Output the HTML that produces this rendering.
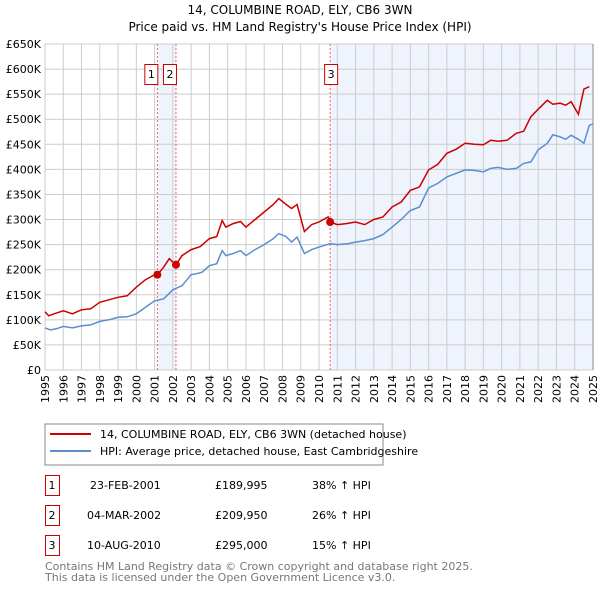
<!DOCTYPE html>
<html><head><meta charset="utf-8"><style>
body{margin:0;background:#fff;font-family:"DejaVu Sans","Liberation Sans",sans-serif;}
svg text{font-family:"DejaVu Sans","Liberation Sans",sans-serif;}
</style></head><body>
<svg id="c" width="600" height="590" xmlns="http://www.w3.org/2000/svg">
<text x="300" y="14" text-anchor="middle" font-size="12">14, COLUMBINE ROAD, ELY, CB6 3WN</text>
<text x="300" y="31" text-anchor="middle" font-size="12">Price paid vs. HM Land Registry's House Price Index (HPI)</text>
<g id="plot"></g>
<rect x="45" y="424" width="338" height="41" fill="#fff" stroke="#888"/>
<line x1="50" y1="434" x2="91" y2="434" stroke="#cc0000" stroke-width="2"/>
<text x="100" y="438" font-size="11">14, COLUMBINE ROAD, ELY, CB6 3WN (detached house)</text>
<line x1="50" y1="451" x2="91" y2="451" stroke="#5b8ed0" stroke-width="2"/>
<text x="100" y="455" font-size="11">HPI: Average price, detached house, East Cambridgeshire</text>
<g font-size="11">
<rect x="45.5" y="475.5" width="14" height="20" fill="none" stroke="#c00"/><text x="52" y="489" text-anchor="middle">1</text>
<text x="90" y="489">23-FEB-2001</text><text x="215" y="489">£189,995</text><text x="312" y="489">38% ↑ HPI</text>
<rect x="45.5" y="505.5" width="14" height="20" fill="none" stroke="#c00"/><text x="52" y="519" text-anchor="middle">2</text>
<text x="87" y="519">04-MAR-2002</text><text x="215" y="519">£209,950</text><text x="312" y="519">26% ↑ HPI</text>
<rect x="45.5" y="535.5" width="14" height="20" fill="none" stroke="#c00"/><text x="52" y="549" text-anchor="middle">3</text>
<text x="87" y="549">10-AUG-2010</text><text x="215" y="549">£295,000</text><text x="312" y="549">15% ↑ HPI</text>
</g>
<text x="45" y="570" font-size="11" fill="#777">Contains HM Land Registry data © Crown copyright and database right 2025.</text>
<text x="45" y="581" font-size="11" fill="#777">This data is licensed under the Open Government Licence v3.0.</text>
</svg>
<script>
const yTicks=[0,50,100,150,200,250,300,350,400,450,500,550,600,650];
const years=[1995,1996,1997,1998,1999,2000,2001,2002,2003,2004,2005,2006,2007,2008,2009,2010,2011,2012,2013,2014,2015,2016,2017,2018,2019,2020,2021,2022,2023,2024,2025];
const hpiT=[1995,1995.3,1995.6,1996,1996.5,1997,1997.5,1998,1998.5,1999,1999.5,2000,2000.5,2001,2001.5,2002,2002.5,2003,2003.3,2003.6,2004,2004.4,2004.7,2004.9,2005.3,2005.7,2006,2006.5,2007,2007.5,2007.8,2008.2,2008.5,2008.8,2009.2,2009.6,2010,2010.6,2011,2011.6,2012,2012.5,2013,2013.5,2014,2014.5,2015,2015.5,2016,2016.5,2017,2017.5,2018,2018.5,2019,2019.4,2019.8,2020.3,2020.8,2021.2,2021.6,2022,2022.5,2022.8,2023.2,2023.5,2023.8,2024.2,2024.5,2024.8,2025];
const hpiV=[84,80,82,87,84,88,90,97,100,105,106,112,125,138,142,160,168,190,192,195,208,212,238,228,232,238,228,240,250,262,272,266,255,265,232,240,245,252,250,252,255,258,262,270,285,300,318,325,363,372,385,392,399,398,395,402,404,400,402,412,415,439,452,469,465,460,468,460,452,488,490];
const ppT=[1995,1995.2,1995.5,1996,1996.5,1997,1997.5,1998,1998.5,1999,1999.5,2000,2000.5,2001,2001.15,2001.5,2001.8,2002.17,2002.5,2003,2003.5,2004,2004.4,2004.7,2004.9,2005.3,2005.7,2006,2006.5,2007,2007.5,2007.8,2008.2,2008.5,2008.8,2009.2,2009.6,2010,2010.5,2010.6,2011,2011.5,2012,2012.5,2013,2013.5,2014,2014.5,2015,2015.5,2016,2016.5,2017,2017.5,2018,2018.5,2019,2019.4,2019.8,2020.3,2020.8,2021.2,2021.6,2022,2022.5,2022.8,2023.2,2023.5,2023.8,2024.2,2024.5,2024.8,2025];
const ppV=[116,108,112,118,112,120,122,135,140,145,148,165,180,190,190,205,222,210,228,240,246,262,266,298,285,292,296,285,300,315,330,342,330,322,330,276,290,295,305,295,290,292,295,290,300,305,325,335,358,365,399,410,432,440,452,450,449,458,456,458,472,476,505,520,538,530,532,528,535,510,560,565];
const sales=[[2001.15,189.995,"1"],[2002.17,209.95,"2"],[2010.61,295,"3"]];
const X0=45,X1=593,Y0=370,Y1=44;
const x=t=>X0+(t-1995)/30*(X1-X0);
const y=v=>Y0-v/650*(Y0-Y1);
const NS="http://www.w3.org/2000/svg";
const g=document.getElementById('plot');
function mk(tag,attrs,parent){const e=document.createElementNS(NS,tag);for(const k in attrs)e.setAttribute(k,attrs[k]);(parent||g).appendChild(e);return e;}
let e;
e=mk('rect',{x:x(sales[0][0]),y:Y1,width:x(sales[1][0])-x(sales[0][0]),height:Y0-Y1,fill:'#eef3fc'});


e=mk('rect',{x:x(sales[2][0]),y:Y1,width:X1-x(sales[2][0]),height:Y0-Y1,fill:'#eef3fc'});


yTicks.forEach(v=>{
 e=mk('line',{x1:X0,x2:X1,y1:y(v*1000/1000),y2:y(v),stroke:'#ccc'});
 
 
 e=mk('text',{x:X0-4,y:y(v)+4,'text-anchor':'end','font-size':'11'});
 e.textContent=v===0?'£0':'£'+v+'K';
 
 
});
years.forEach(yr=>{
 e=mk('line',{x1:x(yr),x2:x(yr),y1:Y1,y2:Y0,stroke:'#ccc'});
 
 
 e=mk('text',{transform:`translate(${x(yr)+4},${Y0+5}) rotate(-90)`,'text-anchor':'end','font-size':'11'});
 e.textContent=yr;
 
 
});
e=mk('line',{x1:X1,x2:X1,y1:Y1,y2:Y0,stroke:'#888'});


sales.forEach(s=>{
 e=mk('line',{x1:x(s[0]),x2:x(s[0]),y1:Y1,y2:Y0,stroke:'#f06060','stroke-dasharray':'2,2'});
 
 
});
e=mk('path',{d:hpiT.map((t,i)=>(i?'L':'M')+x(t).toFixed(1)+','+y(hpiV[i]).toFixed(1)).join(''),fill:'none',stroke:'#5b8ed0','stroke-width':1.5});


e=mk('path',{d:ppT.map((t,i)=>(i?'L':'M')+x(t).toFixed(1)+','+y(ppV[i]).toFixed(1)).join(''),fill:'none',stroke:'#cc0000','stroke-width':1.5});


sales.forEach(s=>{
 e=mk('circle',{cx:x(s[0]),cy:y(s[1]),r:4,fill:'#cc0000'});
 
 
 const bx=x(s[0])-(s[2]==='3'?5:12);
 e=mk('rect',{x:bx-0.5,y:64.5,width:13,height:20,fill:'#fff',stroke:'#c00'});
 
 
 e=mk('text',{x:bx+6,y:78,'text-anchor':'middle','font-size':'11'});
 e.textContent=s[2];
 
 
});
</script>
</body></html>
